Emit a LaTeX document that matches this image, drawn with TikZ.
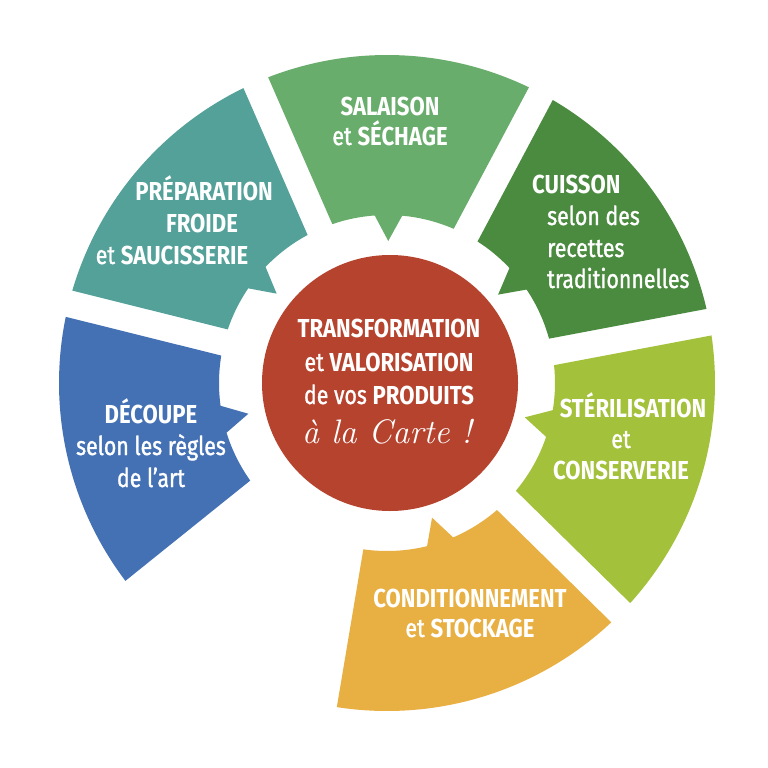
\documentclass[tikz,border=0pt]{standalone}
\usepackage{fontspec}
\setmainfont{Fira Sans}[FakeStretch=0.85]
\newfontfamily\medfont{Fira Sans}[FakeStretch=0.82,FakeBold=1.2]
\newfontfamily\cartefont{Latin Modern Roman}
\definecolor{cprep}{RGB}{83,161,153}
\definecolor{csal}{RGB}{105,173,108}
\definecolor{ccui}{RGB}{75,139,63}
\definecolor{cster}{RGB}{163,193,58}
\definecolor{ccond}{RGB}{232,176,67}
\definecolor{cdec}{RGB}{68,113,180}
\definecolor{chub}{RGB}{181,67,46}
\newcommand\Rout{328}
\newcommand\Rin{168}
\newcommand\Rtip{142}
\newcommand\Pw{4.7}
\newcommand\lw[1]{{\medfont #1}}
% #1 colour, #2 outer start, #3 outer end, #4 inner end, #5 inner start, #6 pointer angle
\newcommand\ringseg[6]{%
  \fill[#1] (#2:\Rout) arc[start angle=#2,end angle=#3,radius=\Rout]
    -- (#4:\Rin) arc[start angle=#4,end angle={#6-\Pw},radius=\Rin]
    -- (#6:\Rtip) -- ({#6+\Pw}:\Rin)
    arc[start angle={#6+\Pw},end angle=#5,radius=\Rin] -- cycle;}
\tikzset{
  lbl/.style={text=white,font=\fontsize{26}{30}\selectfont,anchor=base,inner sep=0pt},
}
\begin{document}
\begin{tikzpicture}[x=1pt,y=1pt]
\useasboundingbox[fill=white] (0,0) rectangle (768,-768);
\begin{scope}[shift={(387,-383)}]
  \ringseg{cprep}{163.64}{115.96}{118.21}{161.39}{141}
  \ringseg{csal}{111.24}{64.36}{66.61}{108.99}{89.5}
  \ringseg{ccui}{59.64}{13.06}{15.31}{57.39}{38.5}
  \ringseg{cster}{8.34}{-42.14}{-39.89}{6.09}{-14}
  \ringseg{ccond}{-46.86}{-98.8}{-98.1}{-49.11}{-71.5}
  \ringseg{cdec}{217.1}{168.36}{170.61}{215.5}{192.5}
\end{scope}
\node[circle,fill=chub,minimum size=256pt,inner sep=0pt] (hub) at (390,-383) {};
% centre
\node[lbl] (h1) at (389,-337) {\textbf{TRANSFORMATION}};
\node[lbl] (h2) at (389,-371) {\lw{et} \textbf{VALORISATION}};
\node[lbl] (h3) at (389,-404) {\lw{de vos} \textbf{PRODUITS}};
\node[lbl,font=\cartefont\itshape\fontsize{34}{40}\selectfont] (h4) at (387,-443) {à la Carte !};
% salaison
\node[lbl] (s1) at (390,-115) {\textbf{SALAISON}};
\node[lbl] (s2) at (390,-145) {\lw{et} \textbf{SÉCHAGE}};
% preparation
\node[lbl] (p1) at (204,-200) {\textbf{PRÉPARATION}};
\node[lbl] (p2) at (202,-232) {\textbf{FROIDE}};
\node[lbl] (p3) at (172,-264) {\lw{et} \textbf{SAUCISSERIE}};
% cuisson
\node[lbl,anchor=base west] (c1) at (532,-193) {\textbf{CUISSON}};
\node[lbl,anchor=base west] (c2) at (547,-225) {\lw{selon des}};
\node[lbl,anchor=base west] (c3) at (547,-257) {\lw{recettes}};
\node[lbl,anchor=base west] (c4) at (547,-288) {\lw{traditionnelles}};
% sterilisation
\node[lbl] (t1) at (633,-417) {\textbf{STÉRILISATION}};
\node[lbl] (t2) at (621,-448) {\lw{et}};
\node[lbl] (t3) at (621,-479) {\textbf{CONSERVERIE}};
% conditionnement
\node[lbl] (k1) at (470,-607) {\textbf{CONDITIONNEMENT}};
\node[lbl] (k2) at (470,-637) {\lw{et} \textbf{STOCKAGE}};
% decoupe
\node[lbl] (d1) at (151,-423) {\textbf{DÉCOUPE}};
\node[lbl] (d2) at (151,-455) {\lw{selon les règles}};
\node[lbl] (d3) at (151,-487) {\lw{de l’art}};
\end{tikzpicture}
\end{document}
